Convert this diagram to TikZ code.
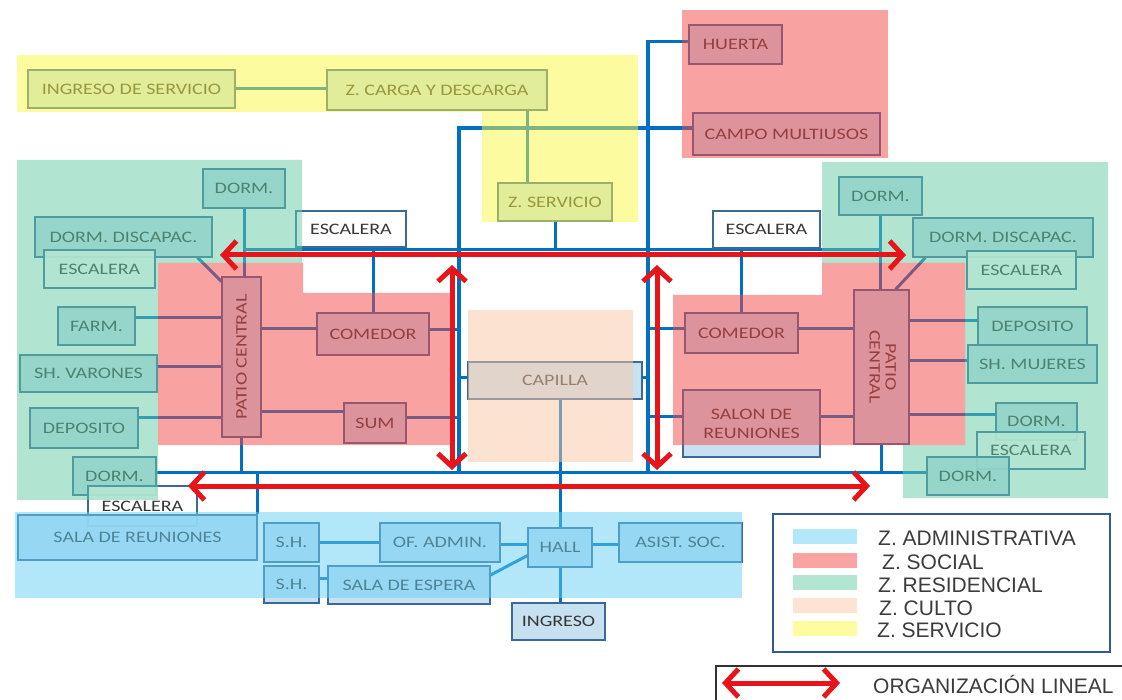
\documentclass[tikz,border=0pt]{standalone}
\usepackage{fontspec}
\setmainfont{Liberation Sans}
\newfontfamily\bxf[FakeStretch=1.25]{Carlito}
\usetikzlibrary{arrows.meta,calc}
\definecolor{lineblue}{RGB}{0,112,192}
\definecolor{boxfill}{RGB}{195,222,240}
\definecolor{boxdraw}{RGB}{60,105,150}
\definecolor{txt}{RGB}{55,55,55}
\definecolor{zred}{RGB}{243,71,71}
\definecolor{zgreen}{RGB}{101,205,165}
\definecolor{zyellow}{RGB}{251,249,65}
\definecolor{zadmin}{RGB}{101,209,245}
\definecolor{zculto}{RGB}{251,201,165}
\definecolor{arrred}{RGB}{232,20,25}
\definecolor{swadmin}{RGB}{178,232,250}
\definecolor{swred}{RGB}{249,163,163}
\definecolor{swgreen}{RGB}{178,230,210}
\definecolor{swculto}{RGB}{253,228,210}
\definecolor{swyellow}{RGB}{253,252,160}
\definecolor{legdraw}{RGB}{50,90,150}
\definecolor{legtext}{RGB}{60,60,60}
\definecolor{orgdraw}{RGB}{50,50,50}
\pgfdeclarelayer{bg}
\pgfdeclarelayer{zones}
\pgfdeclarelayer{fg}
\pgfsetlayers{bg,main,zones,fg}
\tikzset{
  bx/.style={draw=boxdraw, line width=1.1pt, fill=boxfill, fill opacity=0.9, text opacity=1, text=txt,
    font=\bxf\fontsize{16}{19}\selectfont, inner sep=0pt, align=center},
  stair/.style={bx, fill=white},
  conn/.style={draw=lineblue, line width=3pt},
  zone/.style={fill opacity=0.5, draw=none},
  rarrow/.style={draw=arrred, line width=5pt,
    {Straight Barb[length=13pt,width=28pt]}-{Straight Barb[length=13pt,width=28pt]}},
  legtxt/.style={font=\fontsize{21}{24}\selectfont, text=legtext, inner sep=0pt, anchor=west},
  swatch/.style={minimum width=64pt, minimum height=15pt, inner sep=0pt, draw=none},
}
\begin{document}
\begin{tikzpicture}[x=1pt,y=-1pt]
\useasboundingbox (0,0) rectangle (1122,700);
% ---------- nodes ----------
\node[bx, minimum width=207pt, minimum height=38pt] (ingserv) at (131.5,89) {INGRESO DE SERVICIO};
\node[bx, minimum width=220pt, minimum height=40pt] (carga) at (437,90) {Z. CARGA Y DESCARGA};
\node[bx, minimum width=114pt, minimum height=38pt] (zserv) at (555,202) {Z. SERVICIO};
\node[bx, minimum width=93pt, minimum height=39pt] (huerta) at (735.5,44.5) {HUERTA};
\node[bx, minimum width=187pt, minimum height=42pt] (campo) at (786.5,134) {CAMPO MULTIUSOS};
% left
\node[bx, minimum width=82pt, minimum height=39pt] (dormTL) at (244,188.5) {DORM.};
\node[bx, minimum width=177pt, minimum height=40pt] (discL) at (123.5,237) {DORM. DISCAPAC.};
\node[stair, minimum width=111pt, minimum height=38pt] (escL) at (99.5,269) {ESCALERA};
\node[bx, minimum width=77pt, minimum height=38pt] (farm) at (96.5,326) {FARM.};
\node[bx, minimum width=137pt, minimum height=37pt] (shv) at (88.5,373.5) {SH. VARONES};
\node[bx, minimum width=108pt, minimum height=40pt] (depL) at (84,428) {DEPOSITO};
\node[bx, minimum width=83pt, minimum height=38pt] (dormBL) at (114.5,476) {DORM.};
\node[stair, minimum width=109pt, minimum height=40pt] (escBL) at (142.5,506) {ESCALERA};
\node[bx, minimum width=39pt, minimum height=160pt] (patioL) at (241.5,357) {\rotatebox{90}{PATIO CENTRAL}};
\node[bx, minimum width=112pt, minimum height=42pt] (comL) at (373,334) {COMEDOR};
\node[bx, minimum width=62pt, minimum height=40pt] (sum) at (375,423) {SUM};
\node[stair, minimum width=110pt, minimum height=36pt] (escTL) at (351,229) {ESCALERA};
% center
\node[bx, minimum width=174pt, minimum height=37pt] (capilla) at (555,380.5) {CAPILLA};
% right
\node[stair, minimum width=107pt, minimum height=37pt] (escTR) at (766.5,229.5) {ESCALERA};
\node[bx, minimum width=83pt, minimum height=38pt] (dormTR) at (880.5,196) {DORM.};
\node[bx, minimum width=180pt, minimum height=39pt] (discR) at (1003,237.5) {DORM. DISCAPAC.};
\node[stair, minimum width=109pt, minimum height=38pt] (escR) at (1021.5,270) {ESCALERA};
\node[bx, minimum width=109pt, minimum height=38pt] (depR) at (1032.5,326) {DEPOSITO};
\node[bx, minimum width=113pt, minimum height=40pt] (comR) at (741.5,333) {COMEDOR};
\node[bx, minimum width=55pt, minimum height=154pt] (patioR) at (881.5,367) {\rotatebox{-90}{\begin{tabular}{@{}c@{}}PATIO\\[-3pt]CENTRAL\end{tabular}}};
\node[bx, minimum width=137pt, minimum height=67pt] (salon) at (751.5,423.5) {SALON DE\\REUNIONES};
\node[bx, minimum width=129pt, minimum height=38pt] (shm) at (1032.5,364) {SH. MUJERES};
\node[bx, minimum width=81pt, minimum height=37pt] (dormR) at (1036.5,421.5) {DORM.};
\node[stair, minimum width=108pt, minimum height=37pt] (escBR) at (1031,450.5) {ESCALERA};
\node[bx, minimum width=82pt, minimum height=38pt] (dormBR) at (968,476) {DORM.};
% bottom
\node[bx, minimum width=239pt, minimum height=45pt] (salaR) at (137.5,537.5) {SALA DE REUNIONES};
\node[bx, minimum width=55pt, minimum height=39pt] (sh1) at (291.5,542.5) {S.H.};
\node[bx, minimum width=55pt, minimum height=37pt] (sh2) at (291.5,584.5) {S.H.};
\node[bx, minimum width=120pt, minimum height=39pt] (ofadm) at (440,542.5) {OF. ADMIN.};
\node[bx, minimum width=162pt, minimum height=38pt] (espera) at (409,585) {SALA DE ESPERA};
\node[bx, minimum width=64pt, minimum height=39pt] (hall) at (560,547.5) {HALL};
\node[bx, minimum width=123pt, minimum height=39pt] (asist) at (680.5,542.5) {ASIST. SOC.};
\node[bx, minimum width=93pt, minimum height=37pt] (ingreso) at (558.5,621.5) {INGRESO};
% ---------- bus coordinates ----------
\coordinate (vLb) at (459,472);
\coordinate (vRb) at (648,472);
\coordinate (tbL) at (244,250);
\coordinate (tbR) at (880.5,250);
\coordinate (bbL) at (156,472);
\coordinate (bbR) at (927,472);
% ---------- connectors ----------
\begin{pgfonlayer}{bg}
\fill[white] (0,0) rectangle (1122,700);
\draw[conn] (ingserv.east) -- (ingserv.east -| carga.west);
\draw[conn] ([xshift=-20pt]carga.south east) -- ([xshift=-20pt]carga.south east |- zserv.north);
\draw[conn, line width=3.5pt] ([yshift=6pt]campo.west) -| (vLb);
\draw[conn, line width=3.5pt] ([yshift=3pt]huerta.west) -| (vRb);
\draw[conn] (tbL) -- (tbR);
\draw[conn] (zserv.south) -- (zserv.south |- tbL);
\draw[conn] (dormTL.south) -- (dormTL.south |- patioL.north);
\draw[conn] (dormTR.south) -- (dormTR.south |- patioR.north);
\draw[conn] ([xshift=-15pt]discL.south east) -- ([yshift=-5pt]patioL.north west);
\draw[conn] ([xshift=13pt]discR.south west) -- ([xshift=14pt]patioR.north);
\draw[conn] ([yshift=8pt]farm.east) -- ([yshift=8pt]farm.east -| patioL.west);
\draw[conn] ([yshift=7pt]shv.east) -- ([yshift=7pt]shv.east -| patioL.west);
\draw[conn] ([yshift=10pt]depL.east) -- ([yshift=10pt]depL.east -| patioL.west);
\draw[conn] ([yshift=5pt]comL.west) -- ([yshift=5pt]comL.west -| patioL.east);
\draw[conn] ([yshift=11pt]sum.west) -- ([yshift=11pt]sum.west -| patioL.east);
\draw[conn] ([yshift=5pt]sum.east) -- ([yshift=5pt]sum.east -| vLb);
\draw[conn] ([yshift=4pt]comL.east) -- ([yshift=4pt]comL.east -| vLb);
\draw[conn] (comL.north) -- (comL.north |- tbL);
\draw[conn] (patioL.south) -- (patioL.south |- bbL);
\draw[conn] (bbL) -- (bbR);
\draw[conn] ([yshift=3pt]capilla.west) -- ([yshift=3pt]capilla.west -| vLb);
\draw[conn] ([yshift=3pt]capilla.east) -- ([yshift=3pt]capilla.east -| vRb);
\draw[conn] (hall.north |- capilla.south) -- (hall.north);
\draw[conn] (hall.south) -- (hall.south |- ingreso.north);
\draw[conn] (salaR.north east) -- (salaR.north east |- bbL);
\draw[conn] (comR.north) -- (comR.north |- tbL);
\draw[conn] ([yshift=4pt]comR.west) -- ([yshift=4pt]comR.west -| vRb);
\draw[conn] ([yshift=4pt]comR.east) -- ([yshift=4pt]comR.east -| patioR.west);
\draw[conn] ([yshift=7pt]salon.west) -- ([yshift=7pt]salon.west -| vRb);
\draw[conn] ([yshift=7pt]salon.east) -- ([yshift=7pt]salon.east -| patioR.west);
\draw[conn] ([yshift=5pt]depR.west) -- ([yshift=5pt]depR.west -| patioR.east);
\draw[conn] ([yshift=3pt]shm.west) -- ([yshift=3pt]shm.west -| patioR.east);
\draw[conn] ([yshift=7pt]dormR.west) -- ([yshift=7pt]dormR.west -| patioR.east);
\draw[conn] (patioR.south) -- (patioR.south |- bbL);
\draw[conn] (sh1.east) -- (sh1.east -| ofadm.west);
\draw[conn] ([yshift=-2pt]ofadm.east) -- ([yshift=-2pt]ofadm.east -| hall.west);
\draw[conn] ([yshift=-2pt]asist.west) -- ([yshift=-2pt]asist.west -| hall.east);
\draw[conn] ([yshift=6pt]sh2.east) -- ([yshift=6pt]sh2.east -| espera.west);
\draw[conn] ([yshift=10pt]espera.east) -- ([yshift=12pt]hall.south west);
\end{pgfonlayer}
% ---------- zones ----------
\begin{pgfonlayer}{zones}
\fill[zone, zyellow] (17,55) -- (638,55) -- (638,222) -- (482,222) -- (482,112) -- (17,112) -- cycle;
\fill[zone, zred] (682,10) rectangle (888,158);
\fill[zone, zgreen] (17,160) -- (302,160) -- (302,263) -- (158,263) -- (158,500) -- (17,500) -- cycle;
\fill[zone, zred] (158,263) -- (303,263) -- (303,293) -- (450,293) -- (450,445) -- (158,445) -- cycle;
\fill[zone, zgreen] (822,162) -- (1108,162) -- (1108,498) -- (903,498) -- (903,445) -- (965,445) -- (965,263) -- (822,263) -- cycle;
\fill[zone, zred] (673,295) -- (822,295) -- (822,263) -- (965,263) -- (965,445) -- (673,445) -- cycle;
\fill[zone, zculto] (468,310) rectangle (633,462);
\fill[zone, zadmin] (15,512) rectangle (742,598);
\end{pgfonlayer}
% ---------- red arrows, legend ----------
\begin{pgfonlayer}{fg}
\coordinate (ra1) at (220,255);
\coordinate (ra2) at (906,255);
\coordinate (rb1) at (188,486);
\coordinate (rb2) at (870,486);
\coordinate (rv1a) at (452,265);
\coordinate (rv1b) at (452,470);
\coordinate (rv2a) at (657,265);
\coordinate (rv2b) at (657,470);
\draw[rarrow] (ra1) -- (ra2);
\draw[rarrow] (rb1) -- (rb2);
\draw[rarrow] (rv1a) -- (rv1b);
\draw[rarrow] (rv2a) -- (rv2b);
% legend
\node[draw=legdraw, line width=2pt, fill=white, minimum width=337pt, minimum height=138pt, inner sep=0pt] (legend) at (941.5,583) {};
\node[swatch, fill=swadmin] (s1) at (825,536) {};
\node[swatch, fill=swred] (s2) at (825,560) {};
\node[swatch, fill=swgreen] (s3) at (825,582) {};
\node[swatch, fill=swculto] (s4) at (825,605) {};
\node[swatch, fill=swyellow] (s5) at (825,628) {};
\node[legtxt] (t1) at (878,538) {Z. ADMINISTRATIVA};
\node[legtxt] (t2) at (882,562) {Z. SOCIAL};
\node[legtxt] (t3) at (878,585) {Z. RESIDENCIAL};
\node[legtxt] (t4) at (879,608) {Z. CULTO};
\node[legtxt] (t5) at (877,630) {Z. SERVICIO};
\node[draw=orgdraw, line width=1.5pt, minimum width=420pt, minimum height=45pt, anchor=north west, inner sep=0pt] (orgbox) at (715,665) {};
\coordinate (lg1) at (722,683);
\coordinate (lg2) at (840,683);
\draw[rarrow] (lg1) -- (lg2);
\node[legtxt] (orgtxt) at (873,684) {ORGANIZACIÓN LINEAL};
\end{pgfonlayer}
\end{tikzpicture}
\end{document}
